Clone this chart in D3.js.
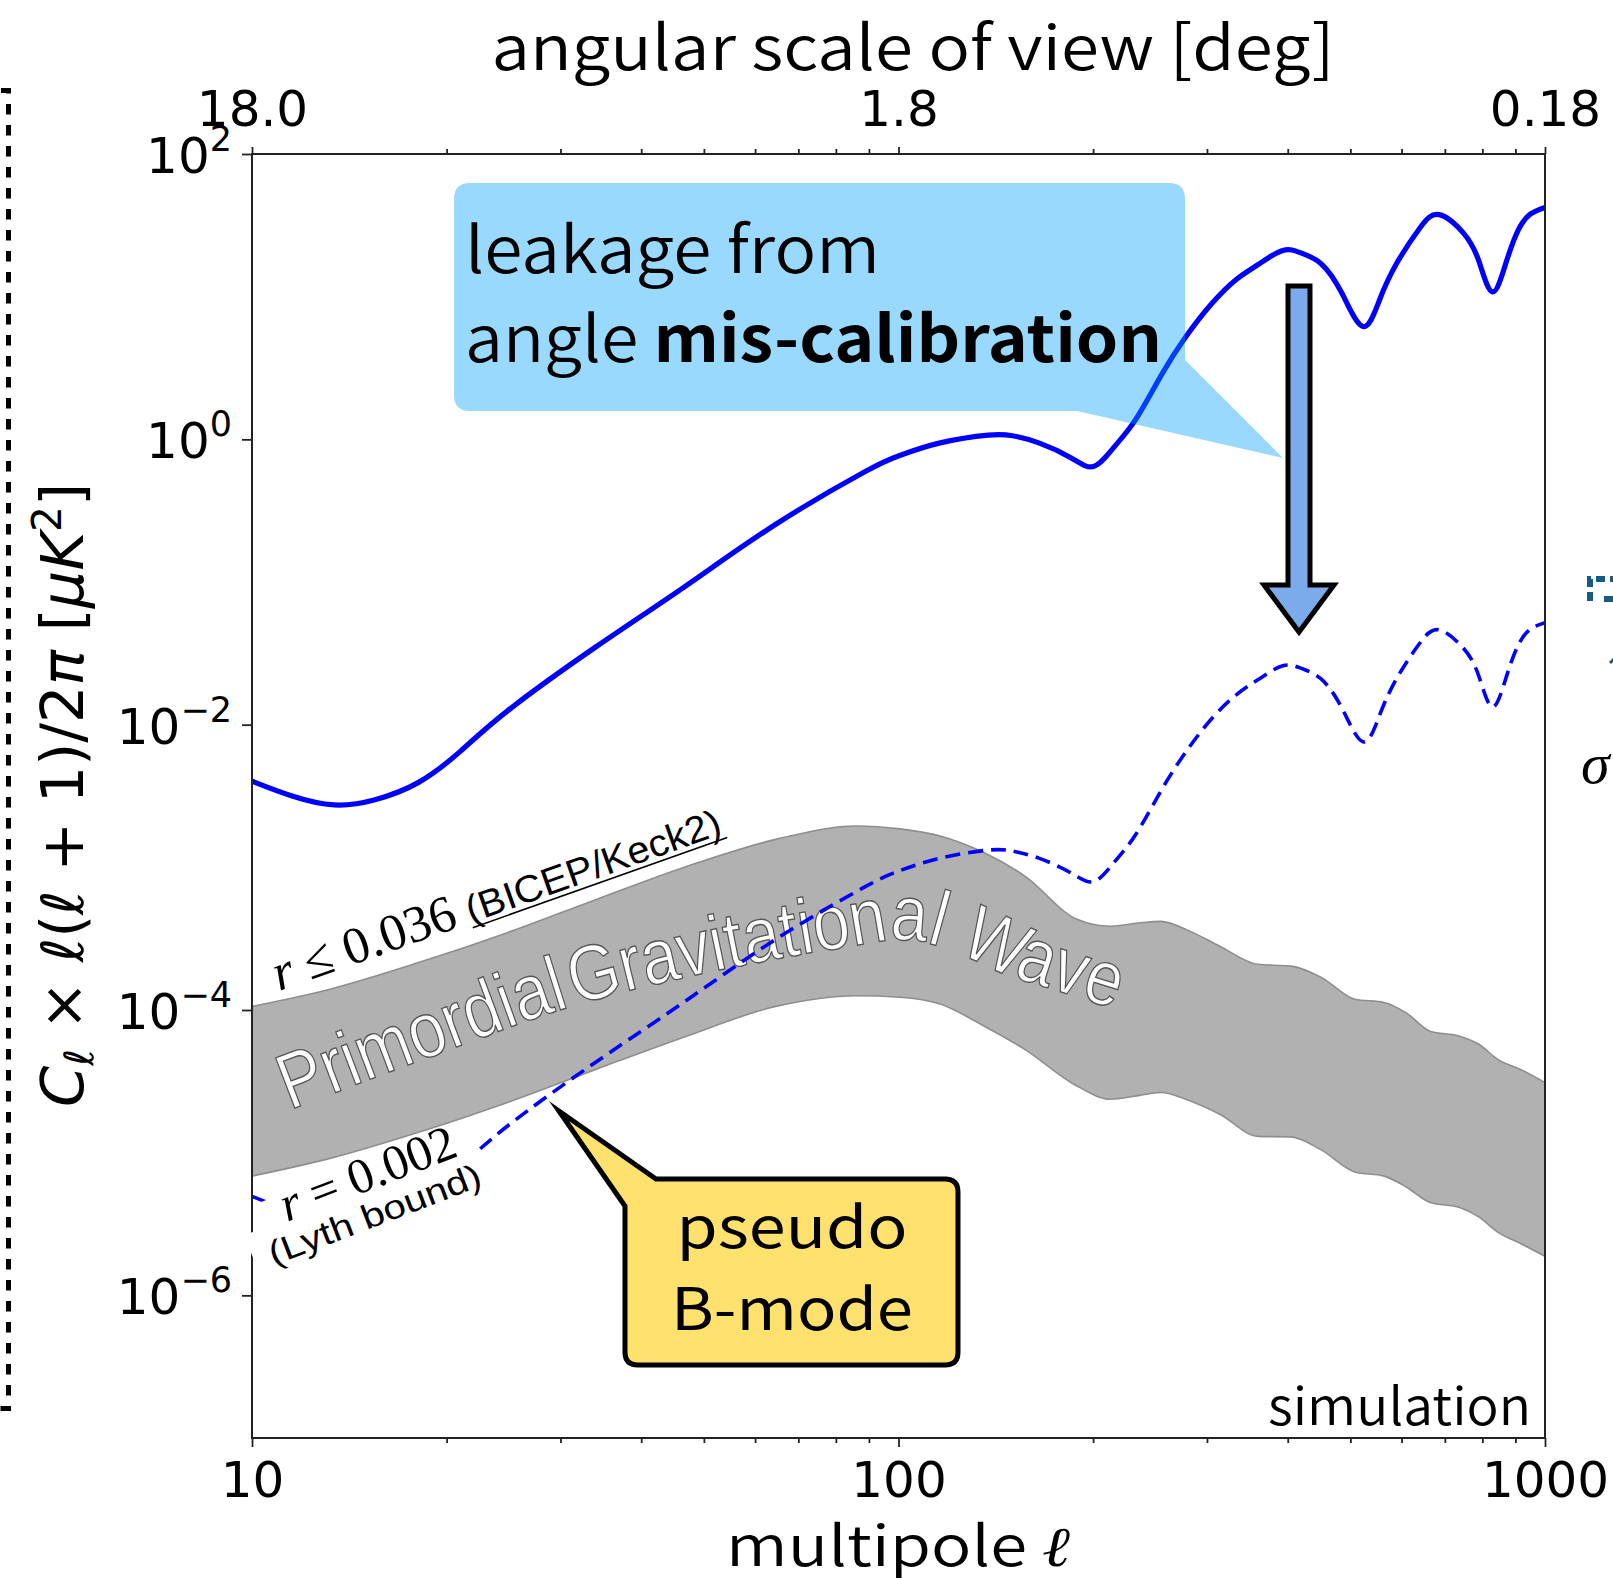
<!DOCTYPE html>
<html>
<head>
<meta charset="utf-8">
<script src="https://cdn.jsdelivr.net/npm/d3@7/dist/d3.min.js"></script>
<style>
  html, body { margin: 0; padding: 0; background: #fff; }
  svg { display: block; }
</style>
</head>
<body>
<svg id="chart" width="1613" height="1578"></svg>
<script>
// Multipoles at which the leakage spectra are sampled
const ell = [10, 11.5, 13.4, 15.5, 18.1, 21, 24.9, 34.1, 46.9, 64.6,
             88.7, 100.6, 116, 137.7, 150, 164.8, 185, 200.2, 215, 232.8,
             255, 278.4, 305, 333, 360, 393, 420, 450, 485, 523,
             555, 590, 640, 686, 748, 790, 829, 870, 909, 950, 1000];

// E-to-B leakage from the polarisation-angle mis-calibration [uK^2]
const leakage = [4.02e-3, 3.18e-3, 2.74e-3, 2.98e-3, 3.94e-3, 6.50e-3, 1.26e-2, 3.53e-2, 9.40e-2, 0.254,
                 0.593, 0.773, 0.944, 1.07, 1.06, 0.944, 0.741, 0.644, 0.871, 1.38,
                 2.82, 5.25, 8.91, 13.2, 16.8, 21.1, 20.2, 17.1, 10.6, 6.17,
                 9.55, 17.2, 30.2, 37.6, 27.9, 17.8, 10.8, 17.2, 29.3, 38.0, 42.2];

// Residual leakage after the angle calibration [uK^2]
const leakageCalibrated = [4.94e-6, 3.91e-6, 3.37e-6, 3.66e-6, 4.85e-6, 7.99e-6, 1.55e-5, 4.34e-5, 1.16e-4, 3.13e-4,
                           7.29e-4, 9.50e-4, 1.16e-3, 1.32e-3, 1.30e-3, 1.16e-3, 9.12e-4, 7.93e-4, 1.07e-3, 1.70e-3,
                           3.47e-3, 6.46e-3, 1.10e-2, 1.62e-2, 2.07e-2, 2.59e-2, 2.48e-2, 2.10e-2, 1.31e-2, 7.59e-3,
                           1.17e-2, 2.12e-2, 3.72e-2, 4.62e-2, 3.43e-2, 2.19e-2, 1.33e-2, 2.12e-2, 3.61e-2, 4.68e-2, 5.19e-2];

// Primordial gravitational-wave B-mode band
const gwEll = [10, 13.2, 18.1, 24.9, 34.1, 46.9, 64.6, 86, 100.6, 116,
               135.5, 157, 188.8, 212.5, 235, 254.6, 280, 314, 359.7, 404.6,
               450, 508, 563.8, 610, 664, 738, 790, 845, 920, 1000];
const gwUpper = [1.06e-4, 1.40e-4, 2.15e-4, 3.50e-4, 5.96e-4, 1.01e-3, 1.57e-3, 1.95e-3, 1.86e-3, 1.66e-3,
                 1.27e-3, 8.65e-4, 4.32e-4, 3.86e-4, 4.07e-4, 4.18e-4, 3.63e-4, 2.80e-4, 2.09e-4, 2.03e-4,
                 1.70e-4, 1.19e-4, 1.13e-4, 9.55e-5, 7.11e-5, 6.55e-5, 5.75e-5, 4.51e-5, 3.80e-5, 3.10e-5]; // r = 0.036
const gwLower = [6.85e-6, 9.12e-6, 1.39e-5, 2.26e-5, 3.85e-5, 6.53e-5, 1.06e-4, 1.26e-4, 1.23e-4, 1.10e-4,
                 7.73e-5, 5.28e-5, 2.93e-5, 2.37e-5, 2.51e-5, 2.64e-5, 2.34e-5, 1.86e-5, 1.30e-5, 1.29e-5,
                 1.05e-5, 7.33e-6, 6.85e-6, 5.75e-6, 4.47e-6, 4.13e-6, 3.55e-6, 2.77e-6, 2.29e-6, 1.88e-6]; // r = 0.002

const xMajorTicks = [10, 100, 1000];
const xMinorTicks = [20, 30, 40, 50, 60, 70, 80, 90, 200, 300, 400, 500, 600, 700, 800, 900];
const topTickLabels = ["18.0", "1.8", "0.18"];
const yTickExponents = [2, 0, -2, -4, -6];

const W = 1613, H = 1578;
const plot = { left: 252, right: 1545, top: 154, bottom: 1438 };
const x = d3.scaleLog().domain([10, 1000]).range([plot.left, plot.right]);
const y = d3.scaleLog().domain([1e-7, 1e2]).range([plot.bottom, plot.top]);

const JP = "'Noto Sans CJK JP', 'Noto Sans', sans-serif";
const MPL = "'DejaVu Sans', sans-serif";
const SERIF = "'Liberation Serif', 'DejaVu Serif', serif";
const HELV = "'Liberation Sans', Arial, sans-serif";

const svg = d3.select("#chart");
svg.append("rect").attr("width", W).attr("height", H).attr("fill", "#fff");
const defs = svg.append("defs");
defs.append("clipPath").attr("id", "plot-clip").append("rect")
  .attr("x", plot.left).attr("y", plot.top)
  .attr("width", plot.right - plot.left).attr("height", plot.bottom - plot.top);

// dashed frame of the neighbouring panel group
svg.append("path").attr("d", "M-20,90.5H8.5V1408.5H-20")
  .attr("fill", "none").attr("stroke", "#000").attr("stroke-width", 5)
  .attr("stroke-dasharray", "10.5 10.5");

// fragments of the panel on the right
svg.append("path").attr("d", "M1590,601V579H1625")
  .attr("fill", "none").attr("stroke", "#165a86").attr("stroke-width", 6)
  .attr("stroke-dasharray", "9 5");
svg.append("path").attr("d", "M1604,599H1625")
  .attr("fill", "none").attr("stroke", "#165a86").attr("stroke-width", 6)
  .attr("stroke-dasharray", "9 5");
svg.append("path").attr("d", "M1610,663L1614,659")
  .attr("stroke", "#165a86").attr("stroke-width", 3);
svg.append("text").attr("x", 1581).attr("y", 783)
  .attr("font-family", SERIF).attr("font-style", "italic").attr("font-size", 58).text("σ");

const smooth = d3.curveNatural;

// ---- primordial GW band ----
const gw = gwEll.map((l, i) => ({ l, hi: gwUpper[i], lo: gwLower[i] }));
const bandG = svg.append("g").attr("clip-path", "url(#plot-clip)");
bandG.append("path").datum(gw)
  .attr("d", d3.area().x(d => x(d.l)).y0(d => y(d.lo)).y1(d => y(d.hi)).curve(d3.curveMonotoneX))
  .attr("fill", "#b1b1b1");
["hi", "lo"].forEach(k => {
  bandG.append("path").datum(gw)
    .attr("d", d3.line().x(d => x(d.l)).y(d => y(d[k])).curve(d3.curveMonotoneX))
    .attr("fill", "none").attr("stroke", "#8e8e8e").attr("stroke-width", 1.6);
});

// arched band title
const guide = [[290, 1110], [430, 1057], [573, 1006], [710, 972], [847, 947],
               [905, 940], [950, 950], [1000, 972], [1064, 993], [1125, 1012]];
defs.append("path").attr("id", "gw-guide").attr("d", d3.line().curve(d3.curveCatmullRom)(guide));
svg.append("text")
  .attr("font-family", HELV).attr("font-size", 78)
  .attr("fill", "#fff").attr("stroke", "#555").attr("stroke-width", 1.4)
  .append("textPath").attr("href", "#gw-guide")
  .attr("textLength", 862).attr("lengthAdjust", "spacingAndGlyphs")
  .text("Primordial\u200AGravitational Wave");

// ---- leakage spectra ----
const curveG = svg.append("g").attr("clip-path", "url(#plot-clip)");
const line = d3.line().x(d => x(d.l)).y(d => y(d.v)).curve(smooth);
curveG.append("path").datum(ell.map((l, i) => ({ l, v: leakageCalibrated[i] })))
  .attr("d", line).attr("fill", "none").attr("stroke", "#0000ff")
  .attr("stroke-width", 3.6).attr("stroke-dasharray", "15 8");
curveG.append("path").datum(ell.map((l, i) => ({ l, v: leakage[i] })))
  .attr("d", line).attr("fill", "none").attr("stroke", "#0000ff")
  .attr("stroke-width", 5.2).attr("stroke-linejoin", "round");

// ---- axes ----
function styleAxis(g) {
  g.select(".domain").remove();
  g.attr("font-family", MPL).attr("font-size", 50).attr("color", "#000");
  g.selectAll(".tick line").attr("stroke", "#222").attr("stroke-width", 1.8);
}
svg.append("g").attr("transform", `translate(0,${plot.bottom})`)
  .call(d3.axisBottom(x).tickValues(xMinorTicks).tickSize(5).tickSizeOuter(0).tickFormat(""))
  .call(styleAxis);
svg.append("g").attr("transform", `translate(0,${plot.bottom})`)
  .call(d3.axisBottom(x).tickValues(xMajorTicks).tickSize(9).tickSizeOuter(0)
    .tickPadding(14).tickFormat(d3.format("d")))
  .call(styleAxis);
svg.append("g").attr("transform", `translate(0,${plot.top})`)
  .call(d3.axisTop(x).tickValues(xMinorTicks).tickSize(5).tickSizeOuter(0).tickFormat(""))
  .call(styleAxis);
svg.append("g").attr("transform", `translate(0,${plot.top})`)
  .call(d3.axisTop(x).tickValues(xMajorTicks).tickSize(7).tickSizeOuter(0)
    .tickPadding(21).tickFormat((d, i) => topTickLabels[i]))
  .call(styleAxis);
svg.append("g").attr("transform", `translate(${plot.left},0)`)
  .call(d3.axisLeft(y).tickValues(yTickExponents.map(e => Math.pow(10, e)))
    .tickSize(10).tickSizeOuter(0).tickFormat(""))
  .call(styleAxis);

yTickExponents.forEach(e => {
  const t = svg.append("text")
    .attr("x", 232).attr("y", y(Math.pow(10, e)) + 19)
    .attr("text-anchor", "end").attr("font-family", MPL).attr("font-size", 50);
  t.append("tspan").text("10");
  t.append("tspan").attr("font-size", 35).attr("dy", -22)
    .text(e < 0 ? "\u2212" + (-e) : String(e));
});

svg.append("rect")
  .attr("x", plot.left).attr("y", plot.top)
  .attr("width", plot.right - plot.left).attr("height", plot.bottom - plot.top)
  .attr("fill", "none").attr("stroke", "#222").attr("stroke-width", 2);

// axis titles
svg.append("text").attr("x", 913).attr("y", 70).attr("text-anchor", "middle")
  .attr("font-family", JP).attr("font-weight", 350).attr("font-size", 62)
  .attr("textLength", 843).attr("lengthAdjust", "spacingAndGlyphs")
  .text("angular scale of view [deg]");

const xt = svg.append("text").attr("x", 898).attr("y", 1566).attr("text-anchor", "middle")
  .attr("font-family", JP).attr("font-weight", 350).attr("font-size", 56)
  .attr("textLength", 344).attr("lengthAdjust", "spacingAndGlyphs");
xt.append("tspan").text("multipole ");
xt.append("tspan").attr("font-family", "'DejaVu Serif', serif").attr("font-style", "italic")
  .attr("font-weight", "normal").text("ℓ");

const yt = svg.append("text").attr("transform", "translate(83,795) rotate(-90)")
  .attr("text-anchor", "middle").attr("font-family", MPL).attr("font-size", 58)
  .attr("textLength", 624).attr("lengthAdjust", "spacingAndGlyphs");
yt.append("tspan").attr("font-style", "italic").text("C");
yt.append("tspan").attr("font-style", "italic").attr("font-size", 40).attr("dy", 10).text("ℓ");
yt.append("tspan").attr("dy", -10).text(" × ");
yt.append("tspan").attr("font-style", "italic").text("ℓ");
yt.append("tspan").text("(");
yt.append("tspan").attr("font-style", "italic").text("ℓ");
yt.append("tspan").text(" + 1)/2");
yt.append("tspan").attr("font-style", "italic").text("π");
yt.append("tspan").text(" [");
yt.append("tspan").attr("font-style", "italic").text("μK");
yt.append("tspan").attr("font-size", 40).attr("dy", -22).text("2");
yt.append("tspan").attr("dy", 22).text("]");

// ---- tensor-to-scalar ratio labels ----
const bicep = svg.append("g").attr("transform", "translate(279,991) rotate(-19.5)");
const b1 = bicep.append("text").attr("font-family", SERIF).attr("font-size", 52);
b1.append("tspan").attr("font-style", "italic").text("r");
b1.append("tspan").text(" ≤ 0.036");
const bw = b1.node().getComputedTextLength();
bicep.append("text").attr("x", bw + 12).attr("font-family", HELV).attr("font-size", 38)
  .attr("textLength", 268).attr("lengthAdjust", "spacingAndGlyphs").text("(BICEP/Keck2)");
bicep.append("line").attr("x1", bw + 12).attr("x2", bw + 282).attr("y1", 5).attr("y2", 5)
  .attr("stroke", "#000").attr("stroke-width", 1.6);

const lyth = svg.append("g").attr("transform", "translate(287,1222) rotate(-21)");
const lythBoxes = lyth.append("g");
const l1 = lyth.append("text").attr("font-family", SERIF).attr("font-size", 50);
l1.append("tspan").attr("font-style", "italic").text("r");
l1.append("tspan").text(" = 0.002");
const l2 = lyth.append("text").attr("x", -28).attr("y", 36).attr("font-family", HELV).attr("font-size", 34)
  .attr("textLength", 225).attr("lengthAdjust", "spacingAndGlyphs").text("(Lyth bound)");
const bb1 = l1.node().getBBox(), bb2 = l2.node().getBBox();
lythBoxes.append("rect").attr("x", -24).attr("y", -28)
  .attr("width", bb1.x + bb1.width + 20 + 24).attr("height", 40).attr("fill", "#fff");
lythBoxes.append("rect").attr("x", bb2.x - 16.5).attr("y", -3)
  .attr("width", bb2.width + 24.5).attr("height", bb2.y + bb2.height + 9).attr("fill", "#fff");

// ---- leakage call-out ----
const cb = { x0: 454, y0: 183, x1: 1185, y1: 411, r: 16 };
svg.append("path")
  .attr("d", `M${cb.x0 + cb.r},${cb.y0}H${cb.x1 - cb.r}Q${cb.x1},${cb.y0} ${cb.x1},${cb.y0 + cb.r}` +
             `V360L1283,458L1077,${cb.y1}H${cb.x0 + cb.r}Q${cb.x0},${cb.y1} ${cb.x0},${cb.y1 - cb.r}` +
             `V${cb.y0 + cb.r}Q${cb.x0},${cb.y0} ${cb.x0 + cb.r},${cb.y0}Z`)
  .attr("fill", "rgb(0,160,250)").attr("fill-opacity", 0.4);
svg.append("text").attr("x", 465).attr("y", 273).attr("font-family", JP)
  .attr("font-weight", 350).attr("font-size", 64)
  .attr("textLength", 415).attr("lengthAdjust", "spacingAndGlyphs").text("leakage from");
const c2 = svg.append("text").attr("x", 465).attr("y", 362).attr("font-family", JP)
  .attr("font-weight", 350).attr("font-size", 64)
  .attr("textLength", 697).attr("lengthAdjust", "spacingAndGlyphs");
c2.append("tspan").text("angle ");
c2.append("tspan").attr("font-weight", "bold").text("mis-calibration");

// calibration arrow
svg.append("path").attr("d", "M1288,286H1310V585H1334L1299,632L1264,585H1288Z")
  .attr("fill", "#7babea").attr("stroke", "#000").attr("stroke-width", 5).attr("stroke-miterlimit", 10);

// ---- pseudo B-mode call-out ----
const yb = { x0: 625, y0: 1179, x1: 958, y1: 1365, r: 13 };
svg.append("path")
  .attr("d", `M656,${yb.y0}H${yb.x1 - yb.r}Q${yb.x1},${yb.y0} ${yb.x1},${yb.y0 + yb.r}` +
             `V${yb.y1 - yb.r}Q${yb.x1},${yb.y1} ${yb.x1 - yb.r},${yb.y1}H${yb.x0 + yb.r}` +
             `Q${yb.x0},${yb.y1} ${yb.x0},${yb.y1 - yb.r}V1206L559,1111Z`)
  .attr("fill", "#ffe26e").attr("stroke", "#000").attr("stroke-width", 5).attr("stroke-miterlimit", 10);
svg.append("text").attr("x", 792).attr("y", 1248).attr("text-anchor", "middle")
  .attr("font-family", JP).attr("font-size", 58)
  .attr("textLength", 231).attr("lengthAdjust", "spacingAndGlyphs").text("pseudo");
svg.append("text").attr("x", 792).attr("y", 1330).attr("text-anchor", "middle")
  .attr("font-family", JP).attr("font-size", 58)
  .attr("textLength", 242).attr("lengthAdjust", "spacingAndGlyphs").text("B-mode");

svg.append("text").attr("x", 1531).attr("y", 1425).attr("text-anchor", "end")
  .attr("font-family", JP).attr("font-weight", 350).attr("font-size", 52)
  .attr("textLength", 263).attr("lengthAdjust", "spacingAndGlyphs").text("simulation");
</script>
</body>
</html>
